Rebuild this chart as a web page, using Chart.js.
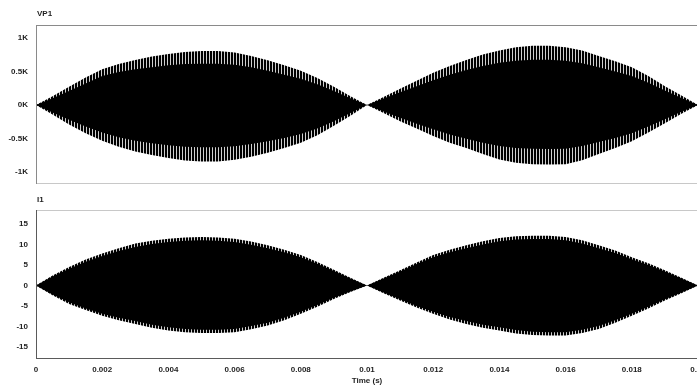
<!DOCTYPE html>
<html>
<head>
<meta charset="utf-8">
<script src="https://cdn.jsdelivr.net/npm/chart.js@4.4.1/dist/chart.umd.min.js"></script>
<style>
html,body{margin:0;padding:0;background:#fff;overflow:hidden;width:697px;height:387px;}
#w1,#w2{position:absolute;left:0;width:720px;}
#w1{top:0;height:192px;}
#w2{top:192px;height:195px;}
</style>
</head>
<body>
<div id="w1"><canvas id="c1" width="720" height="192"></canvas></div>
<div id="w2"><canvas id="c2" width="720" height="195"></canvas></div>
<script>
// ---- data ----
const time = [0,0.0005,0.001,0.0015,0.002,0.0025,0.003,0.0035,0.004,0.0045,
  0.005,0.0055,0.006,0.0065,0.007,0.0075,0.008,0.0085,0.009,0.0095,
  0.01,0.0105,0.011,0.0115,0.012,0.0125,0.013,0.0135,0.014,0.0145,
  0.015,0.0155,0.016,0.0165,0.017,0.0175,0.018,0.0185,0.019,0.0195,0.02];

// VP1 (volts): outer tips and solid core of the carrier envelope
const vpOuterUpper = [0,130,270,410,530,610,670,720,760,790,805,805,780,730,665,590,510,400,270,130,
  0,120,240,360,480,580,670,750,810,860,880,880,860,810,730,650,560,430,280,140,0];
const vpOuterLower = [0,-140,-290,-420,-530,-620,-690,-745,-790,-825,-840,-840,-815,-770,-710,-640,-560,-450,-310,-160,
  0,-120,-240,-350,-460,-560,-640,-730,-810,-860,-880,-885,-880,-820,-730,-640,-540,-410,-270,-130,0];
const vpInnerUpper = [0,100,210,320,430,490,530,560,590,610,615,615,600,560,510,450,390,310,210,100,
  0,95,190,280,370,450,520,580,630,660,675,675,660,620,560,500,430,330,215,105,0];
const vpInnerLower = [0,-110,-220,-320,-410,-480,-530,-570,-600,-620,-630,-630,-615,-580,-540,-490,-430,-350,-240,-120,
  0,-95,-190,-280,-360,-440,-500,-560,-610,-640,-650,-655,-650,-610,-550,-490,-420,-320,-210,-100,0];

// I1 (amps)
const iOuterUpper = [0,2.4,4.5,6.3,7.8,9.1,10.2,10.9,11.4,11.7,11.8,11.7,11.4,10.7,9.8,8.7,7.4,5.7,3.8,1.9,
  0,1.9,3.7,5.6,7.4,8.7,9.8,10.8,11.6,12.0,12.1,12.1,11.8,11.0,9.8,8.5,6.9,5.4,3.7,1.9,0];
const iOuterLower = [0,-2.4,-4.5,-6.0,-7.4,-8.5,-9.4,-10.3,-11.0,-11.4,-11.6,-11.6,-11.4,-10.7,-9.8,-8.5,-6.9,-5.2,-3.3,-1.6,
  0,-1.9,-3.7,-5.4,-6.9,-8.3,-9.4,-10.3,-11.0,-11.7,-12.1,-12.2,-12.2,-11.6,-10.6,-9.1,-7.4,-5.6,-3.7,-1.9,0];
const iInnerUpper = [0,2.2,4.1,5.8,7.2,8.4,9.4,10.1,10.6,10.9,11.0,10.9,10.6,9.9,9.1,8.1,6.9,5.3,3.5,1.7,
  0,1.7,3.4,5.2,6.9,8.1,9.1,10.0,10.8,11.2,11.3,11.3,11.0,10.2,9.1,7.9,6.4,5.0,3.4,1.7,0];
const iInnerLower = [0,-2.2,-4.1,-5.6,-6.9,-7.9,-8.7,-9.6,-10.2,-10.6,-10.8,-10.8,-10.6,-9.9,-9.1,-7.9,-6.4,-4.8,-3.0,-1.5,
  0,-1.7,-3.4,-5.0,-6.4,-7.7,-8.7,-9.6,-10.2,-10.9,-11.3,-11.4,-11.4,-10.8,-9.9,-8.5,-6.9,-5.2,-3.4,-1.7,0];

const vpTicks = [-1000,-500,0,500,1000];
const vpTickLabels = ['-1K','-0.5K','0K','0.5K','1K'];
const iTicks = [-15,-10,-5,0,5,10,15];
const iTickLabels = ['-15','-10','-5','0','5','10','15'];
const xTicks = [0,0.002,0.004,0.006,0.008,0.01,0.012,0.014,0.016,0.018,0.02];
const xTickLabels = ['0','0.002','0.004','0.006','0.008','0.01','0.012','0.014','0.016','0.018','0.02'];

const FONT = {family:"'Liberation Sans', Arial, sans-serif", size:8, weight:'bold'};
const TXT = '#1e1e1e';

function pts(arr){ return time.map((t,i)=>({x:t,y:arr[i]})); }

function stripes(ctx){
  const c=document.createElement('canvas'); c.width=3; c.height=1;
  const g=c.getContext('2d');
  g.fillStyle='#000'; g.fillRect(0,0,3,1);
  g.fillStyle='#cfcfcf'; g.fillRect(2,0,1,1);
  return ctx.createPattern(c,'repeat');
}

function framePlugin(label, topCol, botCol, leftCol, dy){
  return {
    id:'frame',
    afterDraw(chart){
      const a=chart.chartArea, ctx=chart.ctx;
      ctx.save();
      ctx.lineWidth=1;
      ctx.strokeStyle=topCol; ctx.beginPath(); ctx.moveTo(a.left,a.top+0.5); ctx.lineTo(a.right+22,a.top+0.5); ctx.stroke();
      ctx.strokeStyle=botCol; ctx.beginPath(); ctx.moveTo(a.left,a.bottom+0.5); ctx.lineTo(a.right+22,a.bottom+0.5); ctx.stroke();
      ctx.strokeStyle=leftCol; ctx.beginPath(); ctx.moveTo(a.left+0.5,a.top); ctx.lineTo(a.left+0.5,a.bottom+1); ctx.stroke();
      ctx.fillStyle=TXT;
      ctx.font="bold 8px 'Liberation Sans', Arial, sans-serif";
      ctx.textBaseline='middle'; ctx.textAlign='left';
      ctx.fillText(label, a.left+1, a.top-dy);
      ctx.restore();
    }
  };
}

function makeChart(id, inner, outer, yMin, yMax, yTicks, yLabels, showX, pad, plugin){
  const el=document.getElementById(id);
  const ctx=el.getContext('2d');
  const pat=stripes(ctx);
  return new Chart(el,{
    type:'line',
    data:{datasets:[
      {data:pts(inner[0]), fill:'+1', backgroundColor:'#000', borderWidth:0, pointRadius:0, tension:0},
      {data:pts(inner[1]), fill:false, borderWidth:0, pointRadius:0, tension:0},
      {data:pts(outer[0]), fill:'+1', backgroundColor:pat, borderWidth:0, pointRadius:0, tension:0},
      {data:pts(outer[1]), fill:false, borderWidth:0, pointRadius:0, tension:0}
    ]},
    options:{
      responsive:false, animation:false, parsing:false,
      layout:{padding:pad},
      plugins:{legend:{display:false}, tooltip:{enabled:false}, title:{display:false}},
      scales:{
        x:{type:'linear', min:0, max:0.02, display:showX,
          grid:{display:false, drawTicks:false}, border:{display:false},
          afterBuildTicks(s){ s.ticks = xTicks.map(v=>({value:v})); },
          afterFit(s){ if(showX){ s.height=29; } else { s.height=0; } s.paddingLeft=0; s.paddingRight=0; },
          ticks:{font:FONT, color:TXT, padding:7, maxRotation:0, autoSkip:false,
            callback:(v,i)=>xTickLabels[i]},
          title:{display:true, text:'Time (s)', font:FONT, color:TXT, padding:{top:1,bottom:1}}
        },
        y:{type:'linear', min:yMin, max:yMax,
          grid:{display:false, drawTicks:false}, border:{display:false},
          afterBuildTicks(s){ s.ticks = yTicks.map(v=>({value:v})); },
          afterFit(s){ s.width=36; s.paddingTop=0; s.paddingBottom=0; },
          ticks:{font:FONT, color:TXT, padding:8, callback:(v,i)=>yLabels[i]}
        }
      }
    },
    plugins:[plugin]
  });
}

makeChart('c1',[vpInnerUpper,vpInnerLower],[vpOuterUpper,vpOuterLower],-1160,1190,vpTicks,vpTickLabels,false,
  {left:0,right:22,top:25,bottom:9}, framePlugin('VP1','#8a8a8a','#c8c8c8','#8a8a8a',11));
makeChart('c2',[iInnerUpper,iInnerLower],[iOuterUpper,iOuterLower],-17.7,18.4,iTicks,iTickLabels,true,
  {left:0,right:22,top:18,bottom:0}, framePlugin('I1','#c8c8c8','#5a5a5a','#5a5a5a',10));
</script>
</body>
</html>
